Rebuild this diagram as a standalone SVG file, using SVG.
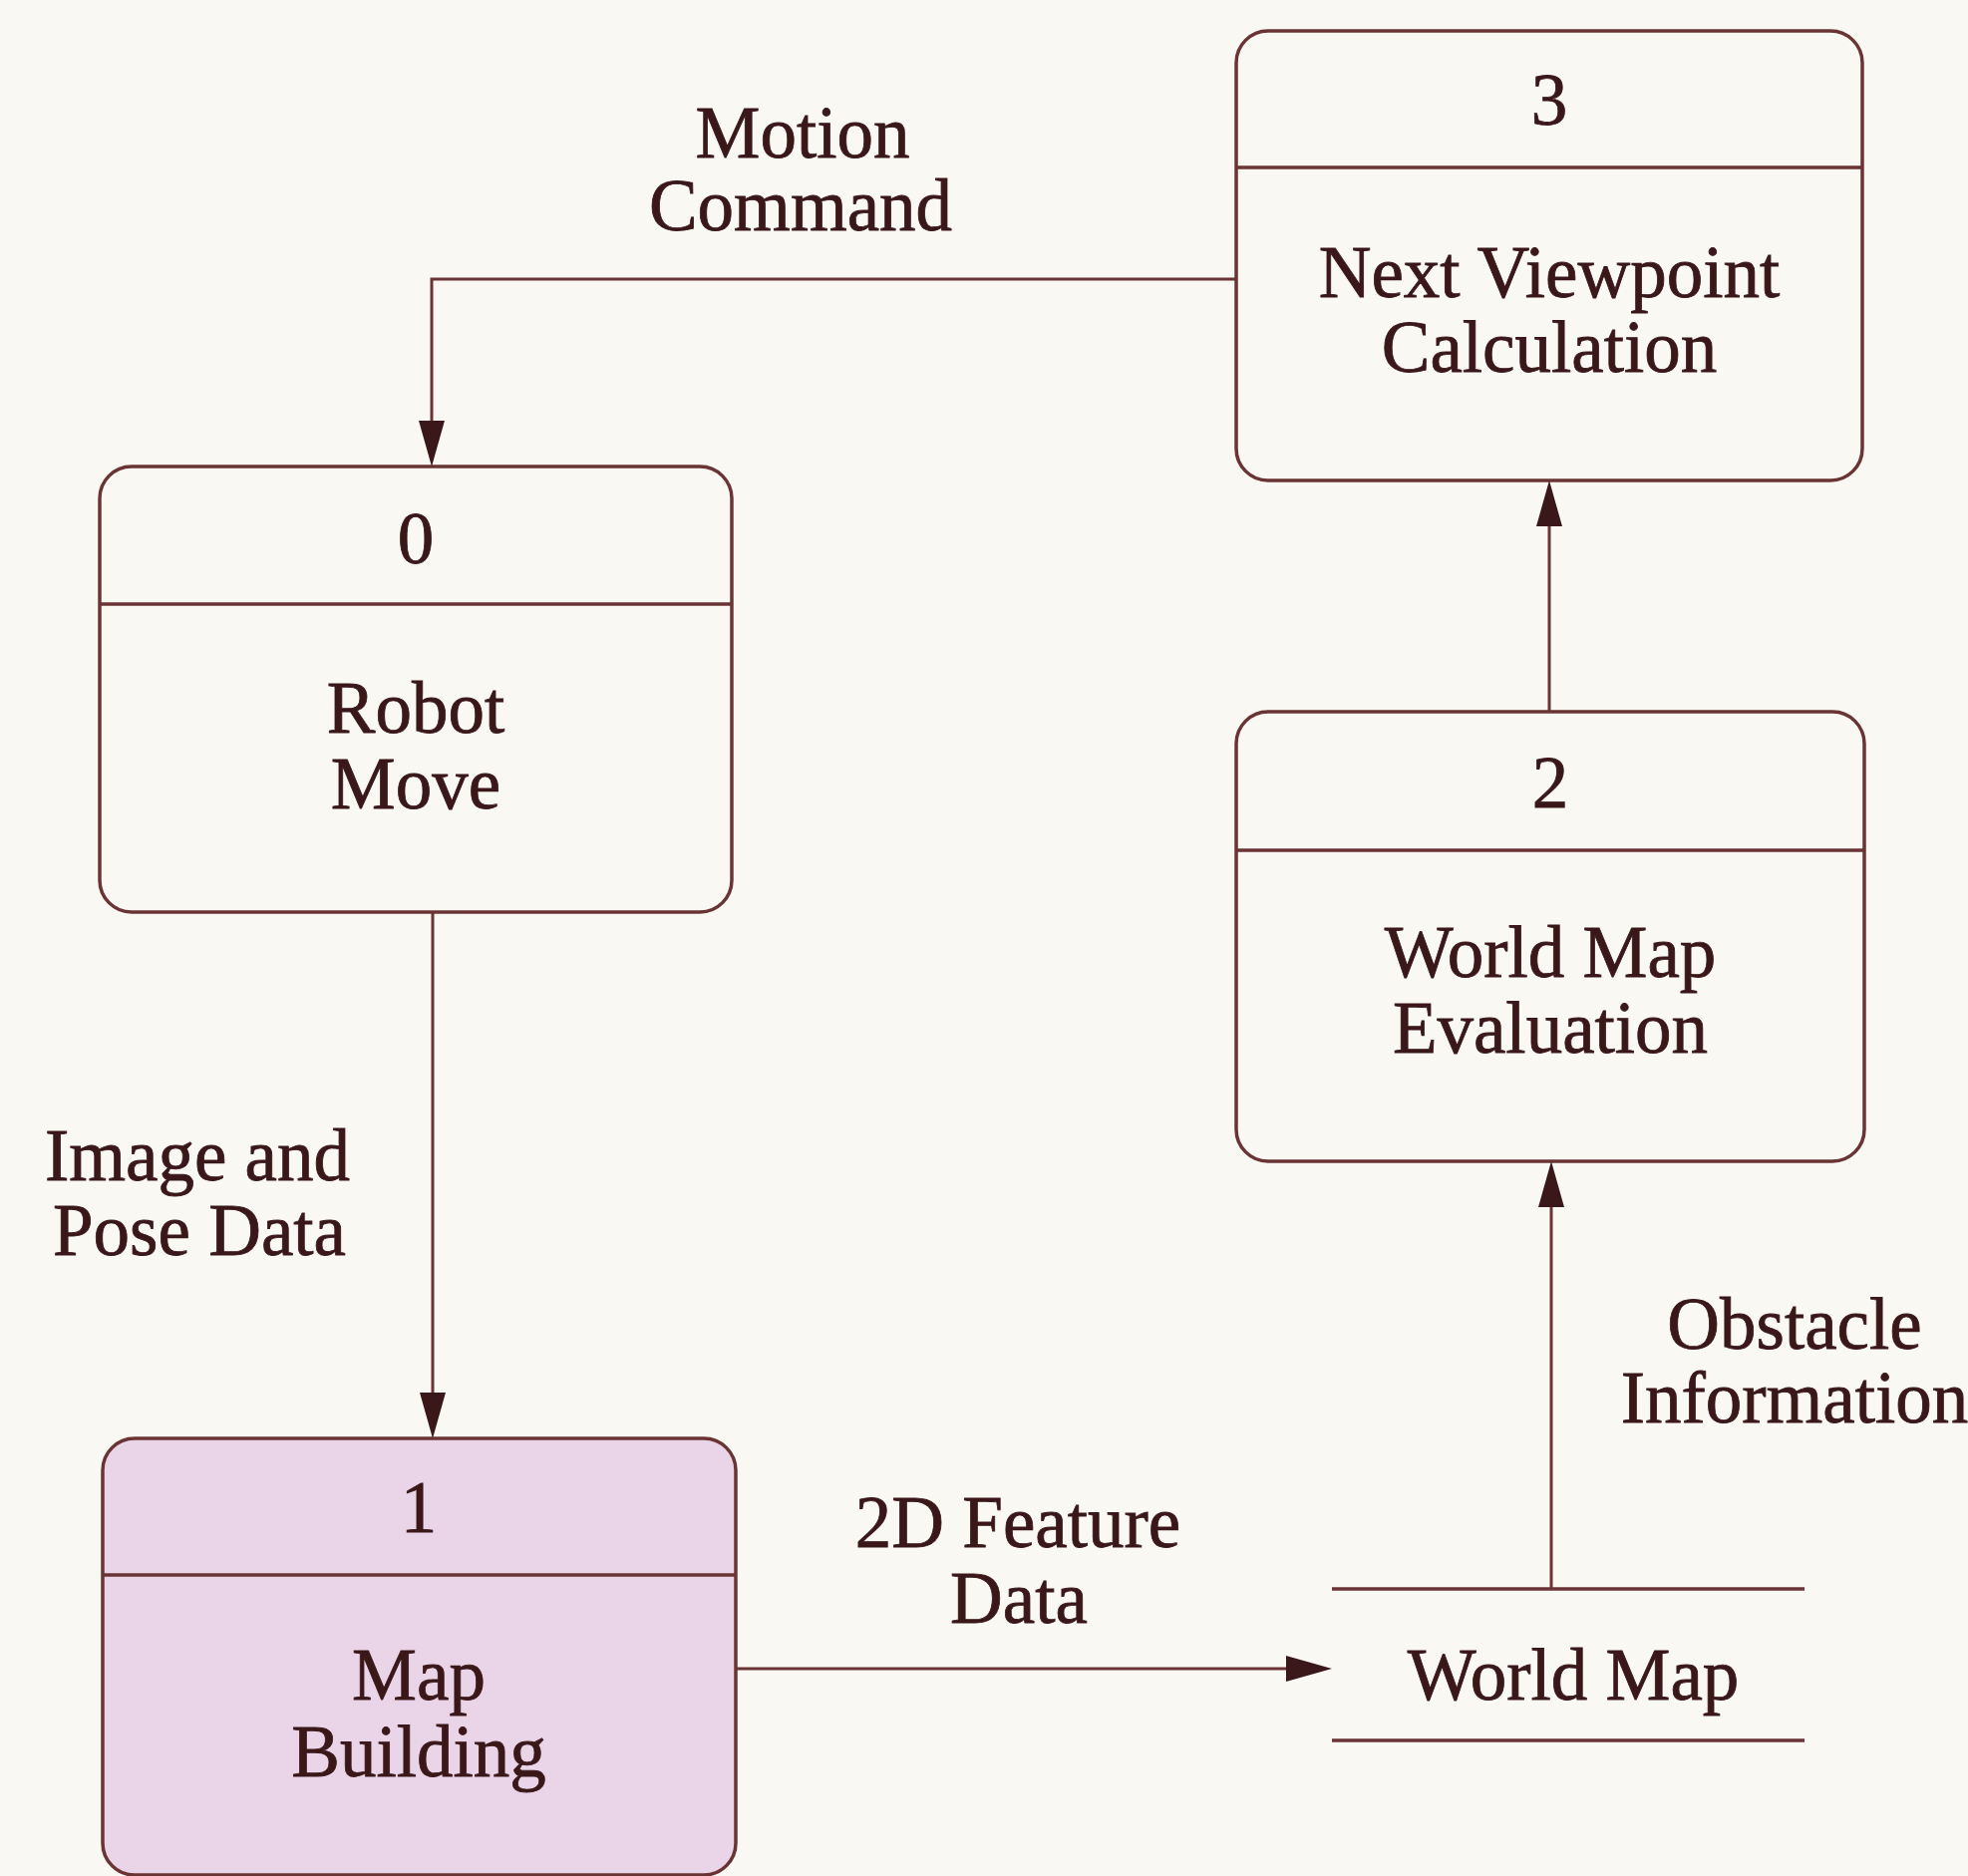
<svg xmlns="http://www.w3.org/2000/svg" width="1974" height="1882" viewBox="0 0 1974 1882">
  <style>
    .bg { fill: #f9f8f3; }
    .box { fill: #f9f8f3; stroke: #6a3434; stroke-width: 3.5; }
    .box.active { fill: #ead4e7; }
    .rule { stroke: #6a3434; stroke-width: 3.5; fill: none; }
    .flow { stroke: #6a3434; stroke-width: 3; fill: none; }
    text { font-family: "Liberation Serif", "Times New Roman", serif; font-size: 73px; fill: #3a1719; stroke: #3a1719; stroke-width: 0.8; text-anchor: middle; }
  </style>
  <defs>
    <marker id="arrow" markerUnits="userSpaceOnUse" markerWidth="46" markerHeight="26" refX="36" refY="13" orient="auto">
      <path d="M0,0 L46,13 L0,26 z" fill="#3a1719"/>
    </marker>
  </defs>

  <rect class="bg" x="0" y="0" width="1974" height="1882"/>

  <!-- process 0 -->
  <g id="robot-move">
    <rect class="box" x="100" y="468" width="634" height="447" rx="32"/>
    <line class="rule" x1="100" y1="606" x2="734" y2="606"/>
    <text x="417" y="565">0</text>
    <text x="417" y="735">Robot</text>
    <text x="417" y="811">Move</text>
  </g>

  <!-- process 1 -->
  <g id="map-building">
    <rect class="box active" x="103" y="1443" width="635" height="438" rx="32"/>
    <line class="rule" x1="103" y1="1580" x2="738" y2="1580"/>
    <text x="420" y="1537">1</text>
    <text x="420" y="1705">Map</text>
    <text x="420" y="1782">Building</text>
  </g>

  <!-- process 2 -->
  <g id="world-map-evaluation">
    <rect class="box" x="1240" y="714" width="630" height="451" rx="32"/>
    <line class="rule" x1="1240" y1="853" x2="1870" y2="853"/>
    <text x="1555" y="810">2</text>
    <text x="1555" y="980">World Map</text>
    <text x="1555" y="1056">Evaluation</text>
  </g>

  <!-- process 3 -->
  <g id="next-viewpoint">
    <rect class="box" x="1240" y="31" width="628" height="451" rx="32"/>
    <line class="rule" x1="1240" y1="168" x2="1868" y2="168"/>
    <text x="1554" y="125">3</text>
    <text x="1554" y="298">Next Viewpoint</text>
    <text x="1554" y="373">Calculation</text>
  </g>

  <!-- data store -->
  <g id="world-map-store">
    <line class="rule" x1="1336" y1="1594" x2="1810" y2="1594"/>
    <line class="rule" x1="1336" y1="1746" x2="1810" y2="1746"/>
    <text x="1578" y="1705">World Map</text>
  </g>

  <!-- data flows -->
  <g id="connectors">
    <path class="flow" d="M1240,280 H433 V458" marker-end="url(#arrow)"/>
    <path class="flow" d="M434,915 V1433" marker-end="url(#arrow)"/>
    <path class="flow" d="M738,1674 H1326" marker-end="url(#arrow)"/>
    <path class="flow" d="M1556,1594 V1175" marker-end="url(#arrow)"/>
    <path class="flow" d="M1554,714 V492" marker-end="url(#arrow)"/>
  </g>

  <!-- flow labels -->
  <g id="labels">
    <text x="805" y="158">Motion</text>
    <text x="803" y="231">Command</text>
    <text x="198" y="1184">Image and</text>
    <text x="200" y="1259">Pose Data</text>
    <text x="1021" y="1552">2D Feature</text>
    <text x="1022" y="1628">Data</text>
    <text x="1800" y="1353">Obstacle</text>
    <text x="1800" y="1427">Information</text>
  </g>
</svg>
